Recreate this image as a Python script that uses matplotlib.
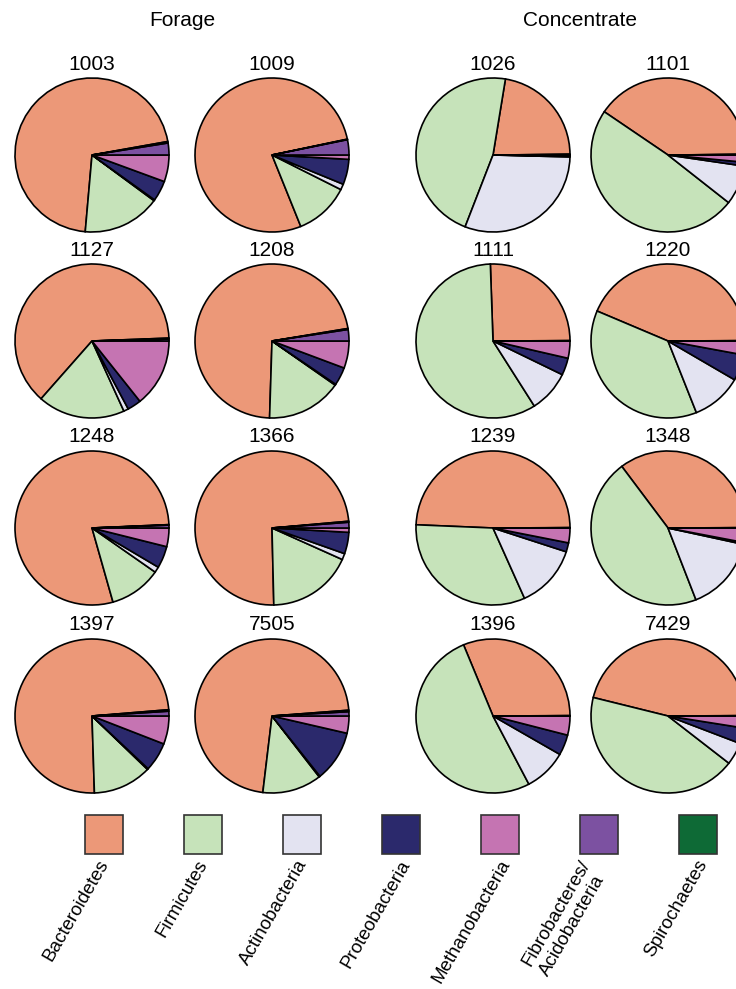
import matplotlib.pyplot as plt
from matplotlib.patches import Rectangle

plt.rcParams['font.family'] = ['Liberation Sans', 'DejaVu Sans']

phyla = ['Bacteroidetes', 'Firmicutes', 'Actinobacteria', 'Proteobacteria',
         'Methanobacteria', 'Fibrobacteres/\nAcidobacteria', 'Spirochaetes']
colors = ['#EC9878', '#C6E3BA', '#E3E3F1', '#2B296C', '#C574B2', '#7C51A1', '#0E6A36']

# animal ids, forage group first then concentrate group
animals = ['1003', '1009', '1127', '1208', '1248', '1366', '1397', '7505',
           '1026', '1101', '1111', '1220', '1239', '1348', '1396', '7429']
diets = ['Forage', 'Concentrate']

# relative abundance (%) of each phylum per animal
bacteroidetes = [70.8, 77.8, 62.9, 71.9, 78.7, 73.9, 74.2, 71.9,
                 22.3, 40.4, 25.5, 43.6, 49.3, 35.2, 31.2, 46.1]
firmicutes = [16.3, 11.5, 18.3, 15.8, 10.9, 17.9, 12.3, 12.4,
              46.7, 48.9, 58.5, 37.4, 32.4, 45.7, 51.5, 43.4]
actinobacteria = [0.2, 1.2, 1.0, 0.2, 1.2, 1.3, 0.2, 0.2,
                  30.5, 8.3, 8.8, 10.6, 13.3, 15.7, 9.0, 4.7]
proteobacteria = [4.3, 5.3, 2.9, 3.8, 4.6, 4.5, 6.1, 10.7,
                  0.2, 0.8, 3.6, 5.5, 1.9, 0.4, 4.3, 3.3]
methanobacteria = [5.6, 0.9, 14.3, 5.7, 3.9, 0.9, 5.9, 3.6,
                   0.2, 1.5, 3.6, 2.9, 3.1, 3.0, 4.0, 2.5]
fibrobacteres = [2.5, 3.2, 0.4, 2.4, 0.6, 1.2, 1.0, 0.9,
                 0.1, 0.1, 0.05, 0.05, 0.05, 0.05, 0.05, 0.05]
spirochaetes = [0.3, 0.1, 0.2, 0.2, 0.1, 0.2, 0.3, 0.3,
                0.02, 0.02, 0.02, 0.02, 0.02, 0.02, 0.02, 0.02]

W, H = 736, 989
fig = plt.figure(figsize=(W / 100, H / 100), dpi=100)

# overlay axes in pixel units for headings and the legend
bg = fig.add_axes([0, 0, 1, 1])
bg.set_xlim(0, W)
bg.set_ylim(H, 0)
bg.axis('off')

col_x = [92, 272, 493, 668]
row_y = [155, 341, 528, 716]
r = 77
pad = 1.03

for g, diet in enumerate(diets):
    bg.text((col_x[2 * g] + col_x[2 * g + 1]) / 2, 20, diet,
            ha='center', va='center', fontsize=15)

for i, animal in enumerate(animals):
    g, k = divmod(i, 8)
    cx = col_x[2 * g + k % 2]
    cy = row_y[k // 2]
    vals = [bacteroidetes[i], firmicutes[i], actinobacteria[i], proteobacteria[i],
            methanobacteria[i], fibrobacteres[i], spirochaetes[i]]
    # the methanobacteria / fibrobacteres boundary sits at 3 o'clock
    start = 360 * (fibrobacteres[i] + spirochaetes[i]) / sum(vals)
    rr = r * pad
    ax = fig.add_axes([(cx - rr) / W, 1 - (cy + rr) / H, 2 * rr / W, 2 * rr / H])
    ax.pie(vals, colors=colors, startangle=start, counterclock=True, radius=1,
           wedgeprops=dict(edgecolor='black', linewidth=1.2))
    ax.set_xlim(-pad, pad)
    ax.set_ylim(-pad, pad)
    ax.axis('off')
    bg.text(cx, cy - 91, animal, ha='center', va='center', fontsize=15)

# legend boxes with rotated names
label_dx = [3, 3, 4, 8, 9, -10, 8]
for j, (name, c) in enumerate(zip(phyla, colors)):
    x = 104 + 99 * j
    bg.add_patch(Rectangle((x - 19, 815), 38, 39, facecolor=c,
                           edgecolor='#333333', linewidth=1.2))
    bg.text(x + label_dx[j] - 10, 857, name, rotation=60, rotation_mode='anchor',
            ha='right', va='top', multialignment='left', fontsize=13.5)

fig.savefig('out.png', dpi=100)
